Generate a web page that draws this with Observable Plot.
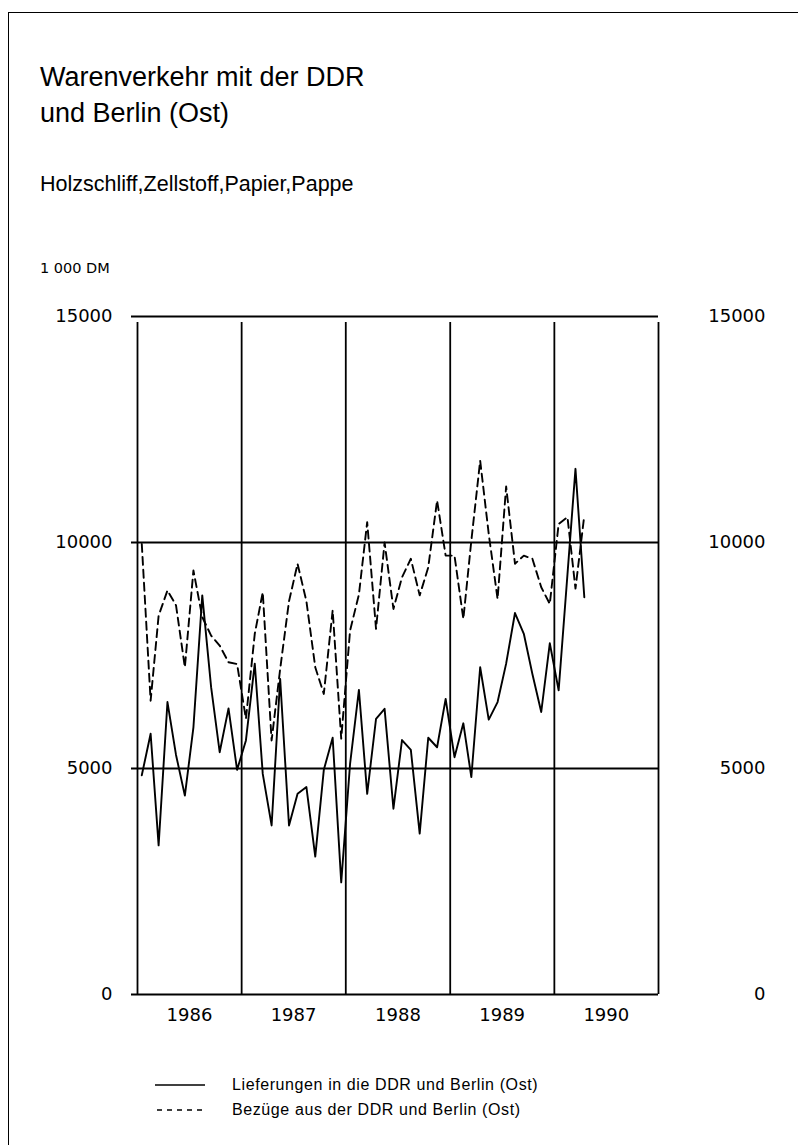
<!DOCTYPE html>
<html><head><meta charset="utf-8">
<script src="https://cdn.jsdelivr.net/npm/d3@7"></script>
<script src="https://cdn.jsdelivr.net/npm/@observablehq/plot@0.6"></script>
<style>
body{margin:0;background:#fff;}
#page{position:relative;width:798px;height:1145px;overflow:hidden;font-family:"Liberation Sans",Arial,sans-serif;color:#000;background:#fff;}
.frame{position:absolute;left:8px;top:12px;width:820px;height:1200px;border-left:1.5px solid #000;border-top:1.5px solid #000;}
.t{position:absolute;white-space:nowrap;line-height:1;}
#chart{position:absolute;left:0;top:290px;}
#legend{position:absolute;left:0;top:1060px;width:798px;height:70px;}
</style></head>
<body><div id="page">
<div class="frame"></div>
<div class="t" style="left:40px;top:64px;font-size:27px;">Warenverkehr mit der DDR</div>
<div class="t" style="left:40px;top:100px;font-size:27px;">und Berlin (Ost)</div>
<div class="t" style="left:40px;top:174px;font-size:21.5px;">Holzschliff,Zellstoff,Papier,Pappe</div>
<div class="t" style="left:40px;top:261px;font-size:14.5px;font-family:'DejaVu Sans';">1 000 DM</div>
<div id="chart"></div>
<svg id="legend" width="798" height="70" xmlns="http://www.w3.org/2000/svg">
  <line x1="155" x2="205" y1="25" y2="25" stroke="#000" stroke-width="1.6"/>
  <line x1="157" x2="207" y1="50" y2="50" stroke="#000" stroke-width="1.6" stroke-dasharray="5,5"/>
</svg>
<div class="t" style="left:232px;top:1077px;font-size:16px;letter-spacing:0.6px;">Lieferungen in die DDR und Berlin (Ost)</div>
<div class="t" style="left:232px;top:1102px;font-size:16px;letter-spacing:0.6px;">Bezüge aus der DDR und Berlin (Ost)</div>
</div>
<script>
// Monthly values, 1000 DM, Jan 1986 – Apr 1990
const lieferungen = [4850, 5770, 3300, 6470, 5300, 4400, 5910, 8830, 6800, 5360, 6330, 4970,
  5620, 7320, 4880, 3740, 6980, 3740, 4440, 4590, 3050, 4970, 5680, 2480,
  5100, 6740, 4440, 6100, 6320, 4110, 5630, 5410, 3560, 5680, 5470, 6540,
  5250, 6000, 4810, 7240, 6080, 6470, 7320, 8440, 7980, 7090, 6250, 7770,
  6730, 9300, 11630, 8790];
const bezuege = [9970, 6500, 8380, 8940, 8610, 7240, 9380, 8350, 7940, 7720, 7350, 7310,
  6100, 7980, 8900, 5620, 7200, 8700, 9530, 8700, 7240, 6650, 8500, 5660,
  8050, 8850, 10450, 8090, 10000, 8530, 9230, 9640, 8830, 9450, 10930, 9710,
  9710, 8310, 10040, 11810, 10190, 8750, 11240, 9530, 9710, 9640, 9010, 8640,
  10410, 10560, 8980, 10600];
const yTicks = [0, 5000, 10000, 15000];
const yearLabels = [1986, 1987, 1988, 1989, 1990];
const yearLines = [1986, 1987, 1988, 1989, 1990, 1991];

const monthDate = i => new Date(Date.UTC(1986, i, 16));
const lRows = lieferungen.map((v, i) => ({date: monthDate(i), value: v}));
const bRows = bezuege.map((v, i) => ({date: monthDate(i), value: v}));

const H = 760;
const chart = Plot.plot({
  width: 798, height: H,
  marginLeft: 137, marginRight: 140, marginTop: 26, marginBottom: H - 704,
  x: {type: "utc", domain: [new Date(Date.UTC(1986, 0, 1)), new Date(Date.UTC(1991, 0, 1))], axis: null},
  y: {domain: [0, 15000], axis: null},
  style: {fontFamily: "'DejaVu Sans'", fontSize: "18px", color: "#000", background: "transparent", overflow: "visible"},
  marks: [
    Plot.ruleY(yTicks, {y: d => d, stroke: "#000", strokeWidth: 1.8, insetLeft: -6}),
    Plot.ruleX(yearLines, {x: d => new Date(Date.UTC(d, 0, 1)), y1: 0, y2: 15000, stroke: "#000", strokeWidth: 1.8, insetBottom: -6}),
    Plot.line(lRows, {x: "date", y: "value", stroke: "#000", strokeWidth: 1.9}),
    Plot.line(bRows, {x: "date", y: "value", stroke: "#000", strokeWidth: 1.9, strokeDasharray: "8,5"}),
    Plot.text(yTicks, {y: d => d, frameAnchor: "left", dx: -25, textAnchor: "end", text: d => String(d), fill: "#000"}),
    Plot.text(yTicks, {y: d => d, frameAnchor: "right", dx: 107, textAnchor: "end", text: d => String(d), fill: "#000"}),
    Plot.text(yearLabels, {x: d => new Date(Date.UTC(d, 6, 2)), frameAnchor: "bottom", dy: 26, text: d => String(d), fill: "#000"})
  ]
});
document.getElementById("chart").appendChild(chart);
</script>
</body></html>
